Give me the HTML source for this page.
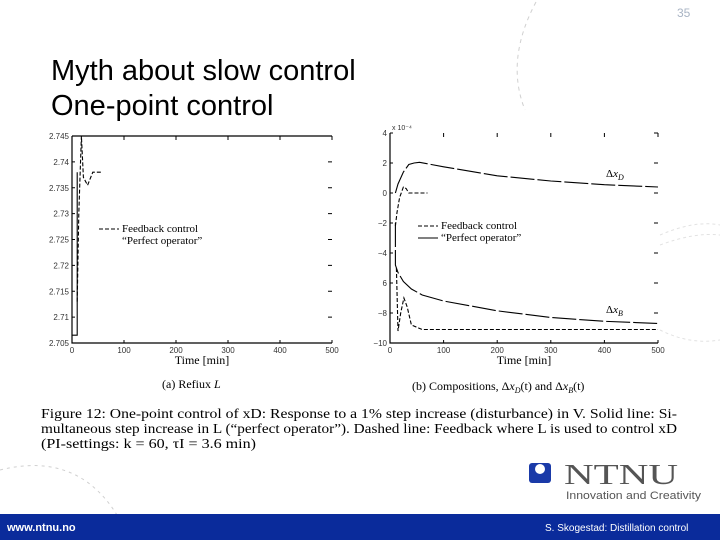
<!DOCTYPE html>
<html><head><meta charset="utf-8"><style>
html,body{margin:0;padding:0;background:#fff}
svg{display:block}
.t{font-family:"Liberation Sans",sans-serif}
.s{font-family:"Liberation Serif",serif}
</style></head><body>
<svg width="720" height="540" viewBox="0 0 720 540" xmlns="http://www.w3.org/2000/svg">
<text class="t" x="677" y="17" font-size="12" fill="#a9b4c4">35</text>
<path d="M536,2 Q505,60 525,110" fill="none" stroke="#d0d0d0" stroke-dasharray="4,4"/>
<path d="M660,235 Q695,220 720,225 M660,245 Q695,232 720,235 M660,330 Q690,345 720,340" fill="none" stroke="#e2e2e2" stroke-dasharray="3,3"/>
<path d="M0,470 Q80,450 120,520 L125,540" fill="none" stroke="#d0d0d0" stroke-dasharray="3,4"/>
<text class="t" x="51" y="80" font-size="29" fill="#000">Myth about slow control</text>
<text class="t" x="51" y="115" font-size="29" fill="#000">One-point control</text>

<g id="chartA"></g>
<g id="chartB"></g>

<text class="s" x="162" y="388" font-size="12">(a) Refiux <tspan font-style="italic">L</tspan></text>
<text class="s" x="412" y="390" font-size="12">(b) Compositions, Δ<tspan font-style="italic">x</tspan><tspan font-size="8" font-style="italic" dy="3">D</tspan><tspan dy="-3">(t) and Δ</tspan><tspan font-style="italic">x</tspan><tspan font-size="8" font-style="italic" dy="3">B</tspan><tspan dy="-3">(t)</tspan></text>
<g class="s" font-size="14" fill="#000">
<text x="41" y="418" textLength="636" lengthAdjust="spacingAndGlyphs">Figure 12: One-point control of xD: Response to a 1% step increase (disturbance) in V. Solid line: Si-</text>
<text x="41" y="433" textLength="636" lengthAdjust="spacingAndGlyphs">multaneous step increase in L (“perfect operator”). Dashed line: Feedback where L is used to control xD</text>
<text x="41" y="448" textLength="215" lengthAdjust="spacingAndGlyphs">(PI-settings: k = 60, τI = 3.6 min)</text>
</g>
<g>
<rect x="529" y="463" width="22" height="20" rx="3" fill="#1a3aa8"/>
<circle cx="540" cy="469" r="5" fill="#fff"/>
<text class="s" x="564" y="484" font-size="28" fill="#555" textLength="114" lengthAdjust="spacingAndGlyphs">NTNU</text>
<text class="t" x="566" y="499" font-size="11" fill="#555" textLength="135" lengthAdjust="spacingAndGlyphs">Innovation and Creativity</text>
</g>
<rect x="0" y="514" width="720" height="26" fill="#0a2b9b"/>
<text class="t" x="7" y="531" font-size="11" font-weight="bold" fill="#fff">www.ntnu.no</text>
<text class="t" x="545" y="531" font-size="10" fill="#fff">S. Skogestad: Distillation control</text>
</svg>
<script>
const NS="http://www.w3.org/2000/svg";
// Chart A data (reflux L)
const aTicksX=[0,100,200,300,400,500];
const aTicksY=[2.705,2.71,2.715,2.72,2.725,2.73,2.735,2.74,2.745];
const aSolidT=[0,10,10];
const aSolidV=[2.7065,2.7065,2.738];
const aDashT=[10,13,18,22,30,40,58];
const aDashV=[2.713,2.73,2.745,2.737,2.7355,2.738,2.738];
// Chart B data (compositions, x 1e-4)
const bTicksX=[0,100,200,300,400,500];
const bTicksY=[-10,-8,-6,-4,-2,0,2,4];
const bTickLabels=["−10","−8","6","−4","−2","0","2","4"];
const xdPerfT=[10,15,25,35,45,55,100,200,300,400,500];
const xdPerfV=[0,0.6,1.4,1.9,2.0,2.05,1.75,1.15,0.8,0.55,0.4];
const xdFbT=[10,13,18,25,30,35,45,70];
const xdFbV=[-2.2,-1.3,-0.3,0.4,0.3,0,0,0];
const xbPerfT=[10,10,15,25,40,60,100,200,300,400,500];
const xbPerfV=[-2,-4.8,-5.3,-5.9,-6.4,-6.8,-7.2,-7.85,-8.3,-8.55,-8.7];
const xbFbT=[12,15,20,26,32,40,60,80,500];
const xbFbV=[-5,-9.2,-8,-7,-7.6,-8.8,-9.1,-9.1,-9.1];

function el(tag,attrs,parent){const e=document.createElementNS(NS,tag);for(const k in attrs)e.setAttribute(k,attrs[k]);parent.appendChild(e);return e;}
function chart(g,box,xmin,xmax,ymin,ymax,tx,ty,tyLab,fmt,topLine){
  const sx=v=>box.x0+(v-xmin)/(xmax-xmin)*(box.x1-box.x0);
  const sy=v=>box.y1-(v-ymin)/(ymax-ymin)*(box.y1-box.y0);
  const ax=el('path',{d:`M${box.x0},${box.y0}L${box.x0},${box.y1}L${box.x1},${box.y1}`+(topLine?`M${box.x0},${box.y0}L${box.x1},${box.y0}`:''),fill:'none',stroke:'#000','stroke-width':1.2},g);
  
  
  tx.forEach(v=>{
    el('line',{x1:sx(v),x2:sx(v),y1:box.y1,y2:box.y1-3,stroke:'#000'},g);
    el('line',{x1:sx(v),x2:sx(v),y1:box.y0,y2:box.y0+4,stroke:'#000'},g);
    const t=el('text',{x:sx(v),y:box.y1+10,'font-size':8,'text-anchor':'middle','font-family':'Liberation Sans,sans-serif',fill:'#333'},g);
    t.textContent=v;
    
    
  });
  ty.forEach((v,i)=>{
    el('line',{x1:box.x1-4,x2:box.x1,y1:sy(v),y2:sy(v),stroke:'#000'},g);
    el('line',{x1:box.x0,x2:box.x0+3,y1:sy(v),y2:sy(v),stroke:'#000'},g);
    const t=el('text',{x:box.x0-3,y:sy(v)+3,'font-size':8,'text-anchor':'end','font-family':'Liberation Sans,sans-serif',fill:'#333'},g);
    t.textContent=tyLab?tyLab[i]:fmt(v);
    
    
  });
  const xl=el('text',{x:(box.x0+box.x1)/2,y:box.y1+21,'font-size':12,'text-anchor':'middle','font-family':'Liberation Serif,serif'},g);
  xl.textContent='Time [min]';
  
  
  return {sx,sy};
}
function line(g,s,T,V,dash,name){
  const d=T.map((t,i)=>(i?'L':'M')+s.sx(t).toFixed(1)+','+s.sy(V[i]).toFixed(1)).join('');
  const p=el('path',{d,fill:'none',stroke:'#000','stroke-width':1.1},g);
  if(dash)p.setAttribute('stroke-dasharray',dash);
  
  
}
function legend(g,x,y,showSolid){
  const l1=el('line',{x1:x,x2:x+20,y1:y,y2:y,stroke:'#000','stroke-dasharray':'4,2'},g);
  
  
  if(showSolid){
    const l2=el('line',{x1:x,x2:x+20,y1:y+12,y2:y+12,stroke:'#000'},g);
    
    
  }
  const t1=el('text',{x:x+23,y:y+3,'font-size':11,'font-family':'Liberation Serif,serif'},g);
  t1.textContent='Feedback control';
  
  
  const t2=el('text',{x:x+23,y:y+15,'font-size':11,'font-family':'Liberation Serif,serif'},g);
  t2.textContent='“Perfect operator”';
  
  
}
const gA=document.getElementById('chartA');
const sA=chart(gA,{x0:72,x1:332,y0:136,y1:343},0,500,2.705,2.745,aTicksX,aTicksY,null,v=>(+v.toFixed(3)).toString(),true);
line(gA,sA,aSolidT,aSolidV,null,'perfect-operator-line');
line(gA,sA,aDashT,aDashV,'4,2','feedback-line');
legend(gA,99,229,false);

const gB=document.getElementById('chartB');
const sB=chart(gB,{x0:390,x1:658,y0:133,y1:343},0,500,-10,4,bTicksX,bTicksY,bTickLabels,v=>v,false);
const ex=el('text',{x:392,y:130,'font-size':7,'font-family':'Liberation Sans,sans-serif',fill:'#333'},gB);
ex.textContent='x 10⁻⁴';


line(gB,sB,xdPerfT,xdPerfV,'24,3','xd-perfect-line');
line(gB,sB,xdFbT,xdFbV,'4,2','xd-feedback-line');
line(gB,sB,xbPerfT,xbPerfV,'24,3','xb-perfect-line');
line(gB,sB,xbFbT,xbFbV,'4,2','xb-feedback-line');
legend(gB,418,226,true);
const lD=el('text',{x:606,y:177,'font-size':11,'font-family':'Liberation Serif,serif'},gB);
lD.innerHTML='Δ<tspan font-style="italic">x</tspan><tspan font-size="8" font-style="italic" dy="3">D</tspan>';


const lB=el('text',{x:606,y:313,'font-size':11,'font-family':'Liberation Serif,serif'},gB);
lB.innerHTML='Δ<tspan font-style="italic">x</tspan><tspan font-size="8" font-style="italic" dy="3">B</tspan>';


</script>
</body></html>
